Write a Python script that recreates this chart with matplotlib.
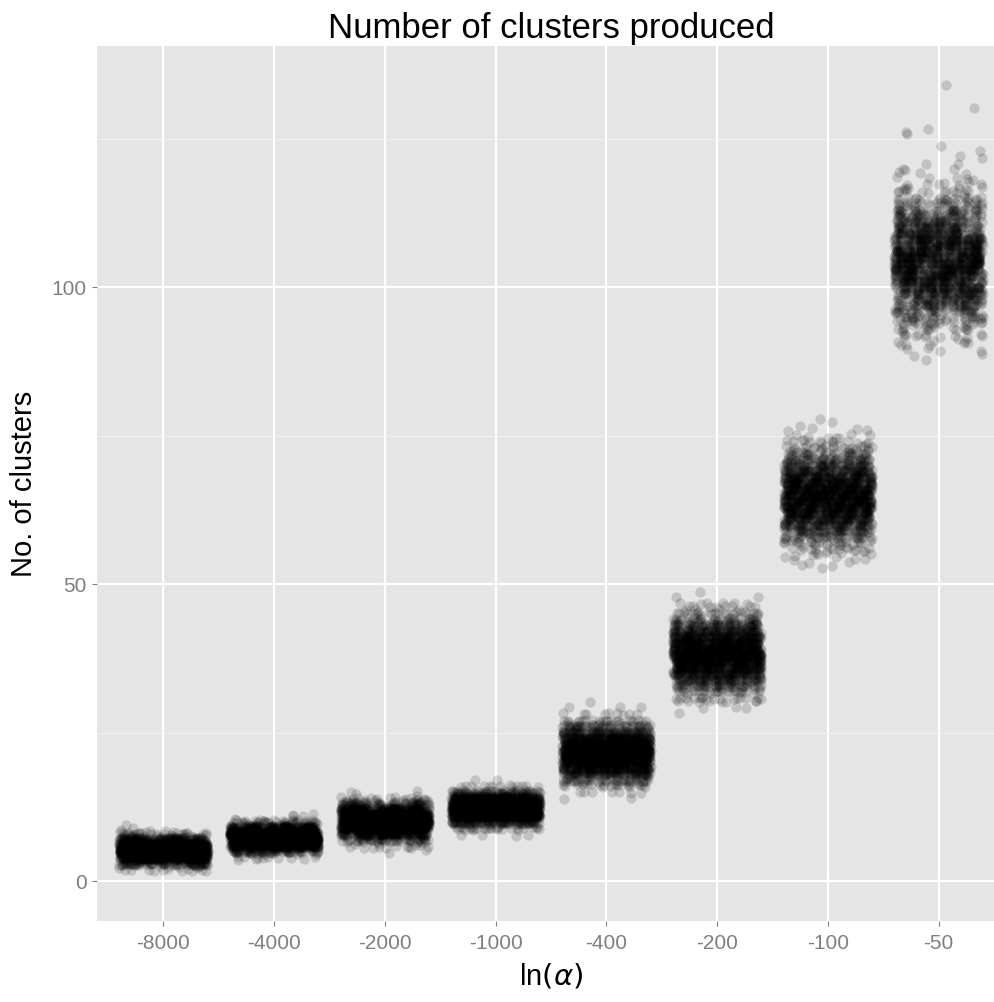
import numpy as np
import matplotlib.pyplot as plt
from matplotlib.ticker import MultipleLocator

# categories on the x axis (ln(alpha) settings)
alpha_labels = ['-8000', '-4000', '-2000', '-1000', '-400', '-200', '-100', '-50']

# number of runs giving each cluster count
# (first value = lowest cluster count in the group)
low_8000 = 2
runs_8000 = [14, 94, 302, 491, 399, 162, 33, 3]
low_4000 = 4
runs_4000 = [11, 79, 278, 483, 422, 182, 40, 4]
low_2000 = 5
runs_2000 = [2, 14, 57, 159, 295, 373, 320, 184, 73, 19, 3]
low_1000 = 8
runs_1000 = [4, 26, 111, 277, 418, 377, 206, 66, 13, 2]
low_400 = 14
runs_400 = [2, 7, 20, 44, 85, 139, 195, 233, 236, 205, 151, 95, 51, 23, 9, 3, 1]
low_200 = 28
runs_200 = [1, 3, 8, 16, 29, 50, 78, 110, 142, 168, 181, 177, 158, 130, 97, 66,
            41, 23, 12, 6, 2, 1]
low_100 = 53
runs_100 = [3, 5, 9, 16, 25, 38, 55, 74, 95, 114, 130, 140, 142, 137, 124, 107,
            86, 66, 48, 33, 21, 13, 7, 4, 2, 1]
low_50 = 88
runs_50 = [2, 3, 5, 7, 11, 15, 21, 29, 37, 47, 57, 68, 78, 88, 95, 101, 103, 102,
           99, 92, 84, 74, 64, 53, 43, 33, 26, 19, 13, 9, 6, 4, 3, 2, 2, 1, 1,
           0, 2, 1, 0, 0, 1, 0, 0, 0, 1]

lows = [low_8000, low_4000, low_2000, low_1000, low_400, low_200, low_100, low_50]
runs = [runs_8000, runs_4000, runs_2000, runs_1000, runs_400, runs_200, runs_100, runs_50]

fig = plt.figure(figsize=(9.95, 10.02), dpi=100)
# the panel runs a little past the right edge of the image, as in the original
ax = fig.add_axes([97 / 995, 1 - 921 / 1002, 908 / 995, (921 - 46) / 1002])
ax.set_facecolor('#e5e5e5')


def halton(k, base):
    # van der Corput radical inverse, used as deterministic jitter
    out = np.zeros(len(k))
    f = 1.0 / base
    k = k.copy()
    while np.any(k > 0):
        out += f * (k % base)
        k //= base
        f /= base
    return out


# position jitter like geom_jitter (width 0.4, height 0.4)
for i, (lo, counts) in enumerate(zip(lows, runs)):
    vals = np.repeat(np.arange(lo, lo + len(counts)), counts)
    n = len(vals)
    # spread the runs of each value over the sequence index
    order = np.argsort((np.arange(n) * 0.6180339887 + 0.13 * i) % 1.0)
    vals = vals[order]
    k = np.arange(1, n + 1) + 37 * i
    jx = halton(k, 2)
    jy = halton(k, 3)
    xs = i + (jx - 0.5) * 0.8
    ys = vals + (jy - 0.5) * 0.8
    ax.scatter(xs, ys, s=55, color='black', alpha=0.15, linewidths=0, zorder=3)

ax.set_xlim(-0.6, 7.6)
ax.set_ylim(-6.7, 140.6)
ax.set_xticks(range(len(alpha_labels)))
ax.set_xticklabels(alpha_labels)
ax.set_yticks([0, 50, 100])
ax.yaxis.set_minor_locator(MultipleLocator(25))

ax.grid(which='major', color='white', linewidth=1.6, zorder=1)
ax.grid(which='minor', axis='y', color='#f2f2f2', linewidth=0.8, zorder=1)
ax.set_axisbelow(True)
for s in ax.spines.values():
    s.set_visible(False)

ax.tick_params(which='major', length=3.5, width=0.8, color='#7f7f7f',
               labelcolor='#7f7f7f', labelsize=15, pad=4)
ax.tick_params(axis='x', pad=6)
ax.tick_params(which='minor', length=0)
for lab in ax.get_xticklabels() + ax.get_yticklabels():
    lab.set_family('Liberation Sans')

plt.rcParams['mathtext.fontset'] = 'stix'
ax.set_xlabel(r'ln$(\alpha)$', fontsize=21, family='Liberation Sans', labelpad=6)
ax.set_ylabel('No. of clusters', fontsize=21, family='Liberation Sans', labelpad=10)
ax.set_title('Number of clusters produced', fontsize=25, family='Liberation Sans', pad=6)

fig.savefig('out.png', dpi=100)
